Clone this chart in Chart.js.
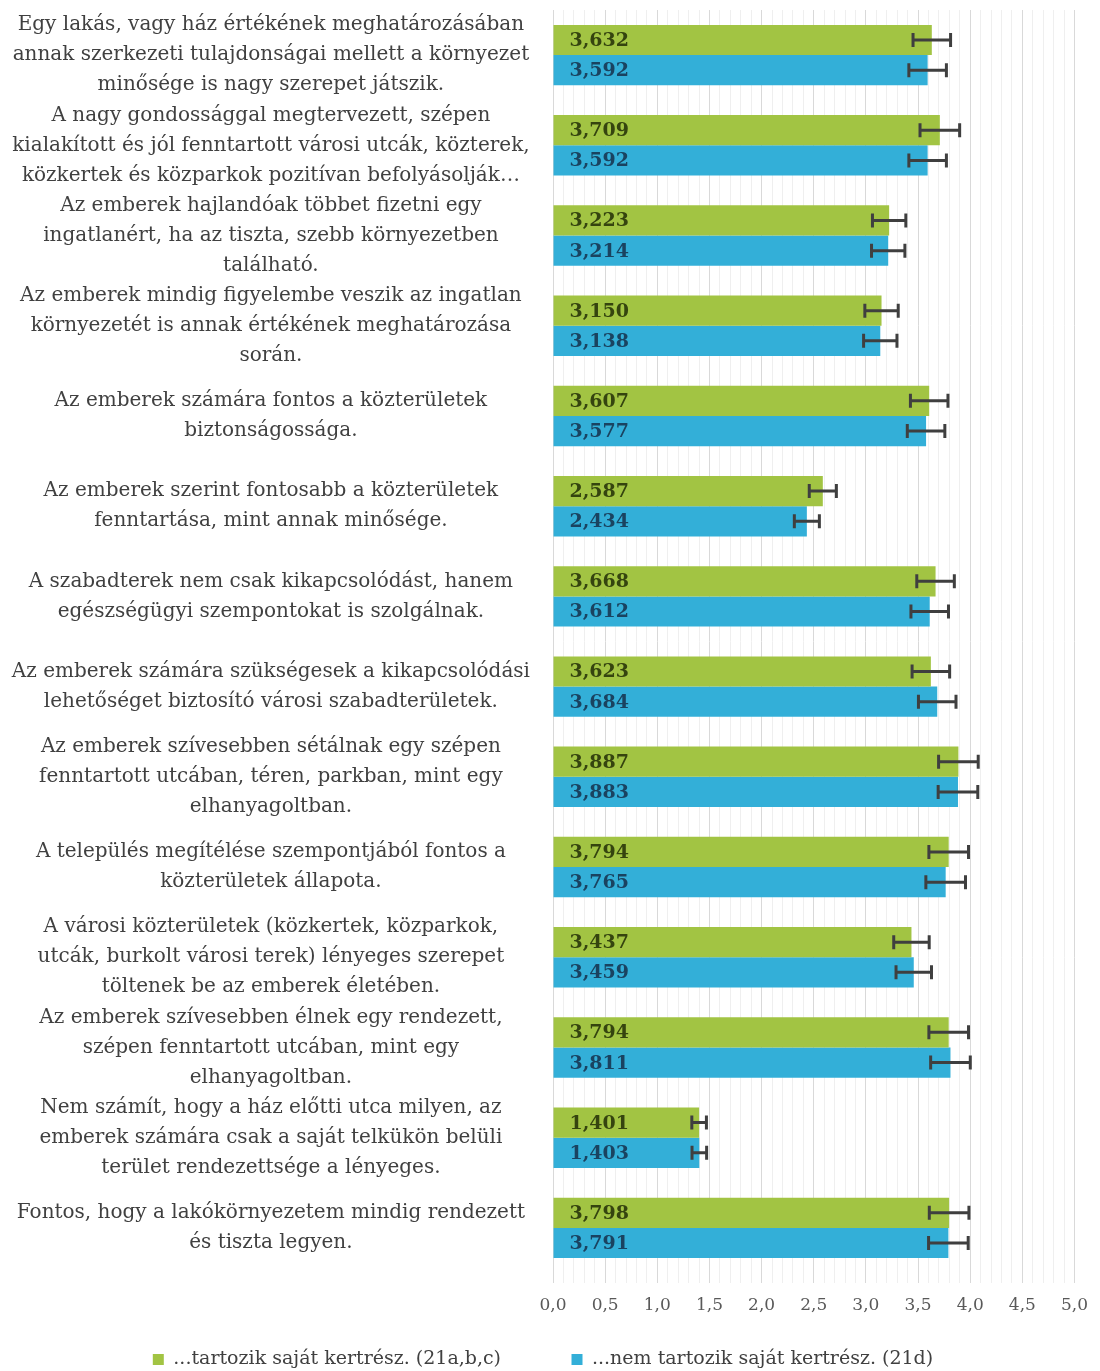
<!DOCTYPE html>
<html>
<head>
<meta charset="utf-8">
<script src="https://cdn.jsdelivr.net/npm/chart.js@4"></script>
<style>
  html, body { margin: 0; padding: 0; background: #fff; }
  #wrap { width: 1100px; height: 1371px; }
</style>
</head>
<body>
<div id="wrap"><canvas id="chart"></canvas></div>
<script>
const categories = [
    ["Egy lakás, vagy ház értékének meghatározásában", "annak szerkezeti tulajdonságai mellett a környezet", "minősége is nagy szerepet játszik."],
    ["A nagy gondossággal megtervezett, szépen", "kialakított és jól fenntartott városi utcák, közterek,", "közkertek és közparkok pozitívan befolyásolják…"],
    ["Az emberek hajlandóak többet fizetni egy", "ingatlanért, ha az tiszta, szebb környezetben", "található."],
    ["Az emberek mindig figyelembe veszik az ingatlan", "környezetét is annak értékének meghatározása", "során."],
    ["Az emberek számára fontos a közterületek", "biztonságossága."],
    ["Az emberek szerint fontosabb a közterületek", "fenntartása, mint annak minősége."],
    ["A szabadterek nem csak kikapcsolódást, hanem", "egészségügyi szempontokat is szolgálnak."],
    ["Az emberek számára szükségesek a kikapcsolódási", "lehetőséget biztosító városi szabadterületek."],
    ["Az emberek szívesebben sétálnak egy szépen", "fenntartott utcában, téren, parkban, mint egy", "elhanyagoltban."],
    ["A település megítélése szempontjából fontos a", "közterületek állapota."],
    ["A városi közterületek (közkertek, közparkok,", "utcák, burkolt városi terek) lényeges szerepet", "töltenek be az emberek életében."],
    ["Az emberek szívesebben élnek egy rendezett,", "szépen fenntartott utcában, mint egy", "elhanyagoltban."],
    ["Nem számít, hogy a ház előtti utca milyen, az", "emberek számára csak a saját telkükön belüli", "terület rendezettsége a lényeges."],
    ["Fontos, hogy a lakókörnyezetem mindig rendezett", "és tiszta legyen."]
];

const seriesNames = ["...tartozik saját kertrész. (21a,b,c)", "...nem tartozik saját kertrész. (21d)"];

const withGarden = [3.632, 3.709, 3.223, 3.150, 3.607, 2.587, 3.668, 3.623, 3.887, 3.794, 3.437, 3.794, 1.401, 3.798];
const withoutGarden = [3.592, 3.592, 3.214, 3.138, 3.577, 2.434, 3.612, 3.684, 3.883, 3.765, 3.459, 3.811, 1.403, 3.791];

const withGardenErr = [0.18, 0.19, 0.16, 0.16, 0.18, 0.13, 0.18, 0.18, 0.19, 0.19, 0.17, 0.19, 0.07, 0.19];
const withoutGardenErr = [0.18, 0.18, 0.16, 0.16, 0.18, 0.12, 0.18, 0.18, 0.19, 0.19, 0.17, 0.19, 0.07, 0.19];

const xTickMin = 0;
const xTickMax = 5;

const SERIF = "'DejaVu Serif', 'Liberation Serif', serif";
const errors = [withGardenErr, withoutGardenErr];
const labelColors = ["#35440f", "#1a4360"];

// error bars + value labels drawn on top of the bars
const barExtras = {
    id: "barExtras",
    afterDatasetsDraw(chart) {
        const ctx = chart.ctx;
        const xScale = chart.scales.x;
        chart.data.datasets.forEach((ds, di) => {
            const meta = chart.getDatasetMeta(di);
            meta.data.forEach((bar, i) => {
                const v = ds.data[i];
                const e = errors[di][i];
                const x1 = xScale.getPixelForValue(v - e);
                const x2 = xScale.getPixelForValue(v + e);
                ctx.save();
                ctx.strokeStyle = "#3f3f3f";
                ctx.lineWidth = 3;
                ctx.beginPath();
                ctx.moveTo(x1, bar.y);
                ctx.lineTo(x2, bar.y);
                ctx.moveTo(x1, bar.y - 7);
                ctx.lineTo(x1, bar.y + 7);
                ctx.moveTo(x2, bar.y - 7);
                ctx.lineTo(x2, bar.y + 7);
                ctx.stroke();

                ctx.fillStyle = labelColors[di];
                ctx.font = "bold 19px " + SERIF;
                ctx.textAlign = "left";
                ctx.textBaseline = "middle";
                ctx.fillText(v.toFixed(3).replace(".", ","), bar.base + 16, bar.y + 1);
                ctx.restore();
            });
        });
    }
};

const ctx = document.getElementById("chart").getContext("2d");
new Chart(ctx, {
    type: "bar",
    data: {
        labels: categories,
        datasets: [
            {
                label: seriesNames[0],
                data: withGarden,
                backgroundColor: "#a2c443",
                categoryPercentage: 0.67,
                barPercentage: 1.0
            },
            {
                label: seriesNames[1],
                data: withoutGarden,
                backgroundColor: "#33afd8",
                categoryPercentage: 0.67,
                barPercentage: 1.0
            }
        ]
    },
    options: {
        indexAxis: "y",
        responsive: true,
        maintainAspectRatio: false,
        animation: false,
        layout: {
            padding: { top: 10, right: 14, bottom: -8, left: 0 }
        },
        plugins: {
            legend: {
                position: "bottom",
                labels: {
                    boxWidth: 11,
                    boxHeight: 11,
                    padding: 4,
                    color: "#404040",
                    font: { family: SERIF, size: 19 },
                    generateLabels: function (chart) {
                        const items = Chart.defaults.plugins.legend.labels.generateLabels(chart);
                        items[0].text = items[0].text + "\u2003\u2003\u2003\u2002";
                        return items;
                    }
                }
            },
            tooltip: { enabled: false }
        },
        scales: {
            x: {
                min: xTickMin,
                max: xTickMax,
                ticks: {
                    stepSize: 0.1,
                    autoSkip: false,
                    maxRotation: 0,
                    padding: 12,
                    color: "#595959",
                    font: { family: SERIF, size: 17 },
                    callback: function (value) {
                        const t = Math.round(value * 10);
                        return t % 5 === 0 ? (t / 10).toFixed(1).replace(".", ",") : "";
                    }
                },
                grid: {
                    color: function (c) {
                        const t = Math.round(c.tick.value * 10);
                        return t % 5 === 0 ? "#d9d9d9" : "#efefef";
                    },
                    tickLength: 10
                },
                border: { display: false },
                afterFit: function (scale) {
                    scale.height = 73;
                }
            },
            y: {
                grid: { display: false },
                border: { display: true, color: "#d9d9d9" },
                ticks: {
                    autoSkip: false,
                    crossAlign: "center",
                    padding: 15,
                    color: "#404040",
                    font: { family: SERIF, size: 20, lineHeight: "30px" }
                },
                afterFit: function (scale) {
                    scale.width = 553;
                    scale.paddingTop = 0;
                    scale.paddingBottom = 0;
                }
            }
        }
    },
    plugins: [barExtras]
});
</script>
</body>
</html>
